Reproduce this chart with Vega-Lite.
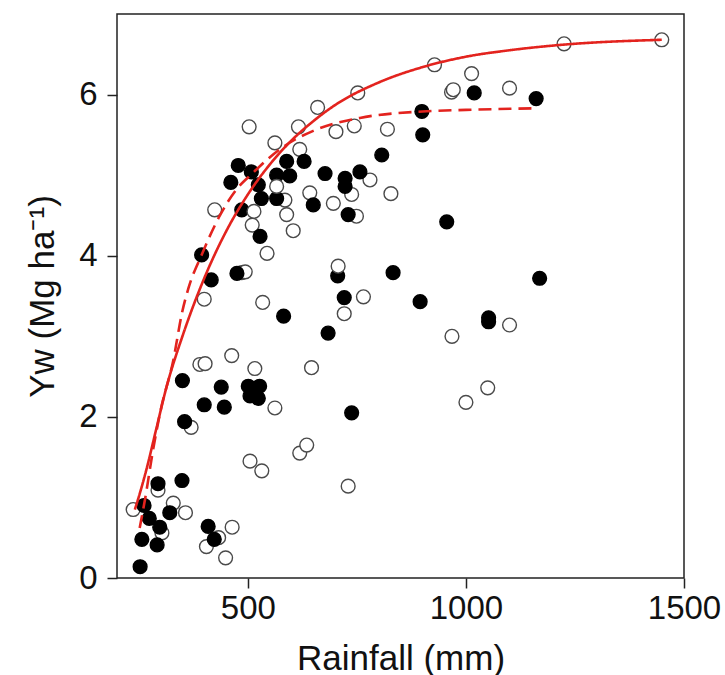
{
  "$schema": "https://vega.github.io/schema/vega-lite/v6.json",
  "width": 567,
  "height": 564,
  "autosize": "none",
  "padding": {"left": 117, "top": 14, "right": 41, "bottom": 97},
  "background": "white",
  "config": {
    "view": {"stroke": "#222222", "strokeWidth": 1.5},
    "axis": {
      "domain": false, "grid": false, "labelFlush": false,
      "tickColor": "#222222", "tickWidth": 1.5, "tickSize": 10,
      "labelFont": "Liberation Sans", "labelFontSize": 33, "labelColor": "#111111",
      "titleFont": "Liberation Sans", "titleFontSize": 35, "titleFontWeight": "normal", "titleColor": "#111111"
    }
  },
  "layer": [
    {
      "data": {"values": [
        {"rainfall": 237, "yw": 0.85, "type": "open"},
        {"rainfall": 294, "yw": 1.09, "type": "open"},
        {"rainfall": 329, "yw": 0.93, "type": "open"},
        {"rainfall": 357, "yw": 0.81, "type": "open"},
        {"rainfall": 303, "yw": 0.56, "type": "open"},
        {"rainfall": 433, "yw": 0.50, "type": "open"},
        {"rainfall": 405, "yw": 0.39, "type": "open"},
        {"rainfall": 449, "yw": 0.25, "type": "open"},
        {"rainfall": 464, "yw": 0.63, "type": "open"},
        {"rainfall": 370, "yw": 1.87, "type": "open"},
        {"rainfall": 390, "yw": 2.65, "type": "open"},
        {"rainfall": 402, "yw": 2.66, "type": "open"},
        {"rainfall": 463, "yw": 2.76, "type": "open"},
        {"rainfall": 516, "yw": 2.60, "type": "open"},
        {"rainfall": 562, "yw": 2.11, "type": "open"},
        {"rainfall": 505, "yw": 1.45, "type": "open"},
        {"rainfall": 532, "yw": 1.33, "type": "open"},
        {"rainfall": 619, "yw": 1.55, "type": "open"},
        {"rainfall": 635, "yw": 1.65, "type": "open"},
        {"rainfall": 730, "yw": 1.14, "type": "open"},
        {"rainfall": 646, "yw": 2.61, "type": "open"},
        {"rainfall": 400, "yw": 3.46, "type": "open"},
        {"rainfall": 486, "yw": 3.79, "type": "open"},
        {"rainfall": 494, "yw": 3.80, "type": "open"},
        {"rainfall": 534, "yw": 3.42, "type": "open"},
        {"rainfall": 544, "yw": 4.03, "type": "open"},
        {"rainfall": 424, "yw": 4.57, "type": "open"},
        {"rainfall": 510, "yw": 4.38, "type": "open"},
        {"rainfall": 585, "yw": 4.69, "type": "open"},
        {"rainfall": 589, "yw": 4.51, "type": "open"},
        {"rainfall": 604, "yw": 4.31, "type": "open"},
        {"rainfall": 503, "yw": 5.60, "type": "open"},
        {"rainfall": 562, "yw": 5.40, "type": "open"},
        {"rainfall": 619, "yw": 5.32, "type": "open"},
        {"rainfall": 616, "yw": 5.60, "type": "open"},
        {"rainfall": 660, "yw": 5.84, "type": "open"},
        {"rainfall": 702, "yw": 5.54, "type": "open"},
        {"rainfall": 744, "yw": 5.61, "type": "open"},
        {"rainfall": 752, "yw": 6.02, "type": "open"},
        {"rainfall": 820, "yw": 5.57, "type": "open"},
        {"rainfall": 642, "yw": 4.78, "type": "open"},
        {"rainfall": 696, "yw": 4.65, "type": "open"},
        {"rainfall": 738, "yw": 4.76, "type": "open"},
        {"rainfall": 749, "yw": 4.49, "type": "open"},
        {"rainfall": 780, "yw": 4.94, "type": "open"},
        {"rainfall": 828, "yw": 4.77, "type": "open"},
        {"rainfall": 765, "yw": 3.49, "type": "open"},
        {"rainfall": 721, "yw": 3.28, "type": "open"},
        {"rainfall": 928, "yw": 6.37, "type": "open"},
        {"rainfall": 1013, "yw": 6.26, "type": "open"},
        {"rainfall": 967, "yw": 6.03, "type": "open"},
        {"rainfall": 971, "yw": 6.06, "type": "open"},
        {"rainfall": 1100, "yw": 6.08, "type": "open"},
        {"rainfall": 1225, "yw": 6.63, "type": "open"},
        {"rainfall": 1449, "yw": 6.68, "type": "open"},
        {"rainfall": 968, "yw": 3.00, "type": "open"},
        {"rainfall": 1100, "yw": 3.14, "type": "open"},
        {"rainfall": 1000, "yw": 2.18, "type": "open"},
        {"rainfall": 1050, "yw": 2.36, "type": "open"},
        {"rainfall": 253, "yw": 0.14, "type": "filled"},
        {"rainfall": 257, "yw": 0.48, "type": "filled"},
        {"rainfall": 262, "yw": 0.90, "type": "filled"},
        {"rainfall": 274, "yw": 0.74, "type": "filled"},
        {"rainfall": 292, "yw": 0.41, "type": "filled"},
        {"rainfall": 298, "yw": 0.63, "type": "filled"},
        {"rainfall": 294, "yw": 1.17, "type": "filled"},
        {"rainfall": 321, "yw": 0.81, "type": "filled"},
        {"rainfall": 349, "yw": 1.21, "type": "filled"},
        {"rainfall": 350, "yw": 2.45, "type": "filled"},
        {"rainfall": 355, "yw": 1.94, "type": "filled"},
        {"rainfall": 400, "yw": 2.15, "type": "filled"},
        {"rainfall": 439, "yw": 2.37, "type": "filled"},
        {"rainfall": 446, "yw": 2.12, "type": "filled"},
        {"rainfall": 409, "yw": 0.64, "type": "filled"},
        {"rainfall": 423, "yw": 0.48, "type": "filled"},
        {"rainfall": 501, "yw": 2.38, "type": "filled"},
        {"rainfall": 527, "yw": 2.38, "type": "filled"},
        {"rainfall": 505, "yw": 2.26, "type": "filled"},
        {"rainfall": 524, "yw": 2.23, "type": "filled"},
        {"rainfall": 394, "yw": 4.01, "type": "filled"},
        {"rainfall": 416, "yw": 3.70, "type": "filled"},
        {"rainfall": 475, "yw": 3.78, "type": "filled"},
        {"rainfall": 478, "yw": 5.12, "type": "filled"},
        {"rainfall": 508, "yw": 5.04, "type": "filled"},
        {"rainfall": 461, "yw": 4.91, "type": "filled"},
        {"rainfall": 524, "yw": 4.88, "type": "filled"},
        {"rainfall": 486, "yw": 4.57, "type": "filled"},
        {"rainfall": 528, "yw": 4.24, "type": "filled"},
        {"rainfall": 531, "yw": 4.71, "type": "filled"},
        {"rainfall": 566, "yw": 4.71, "type": "filled"},
        {"rainfall": 566, "yw": 5.00, "type": "filled"},
        {"rainfall": 589, "yw": 5.17, "type": "filled"},
        {"rainfall": 596, "yw": 4.99, "type": "filled"},
        {"rainfall": 629, "yw": 5.17, "type": "filled"},
        {"rainfall": 582, "yw": 3.25, "type": "filled"},
        {"rainfall": 650, "yw": 4.63, "type": "filled"},
        {"rainfall": 677, "yw": 5.02, "type": "filled"},
        {"rainfall": 723, "yw": 4.96, "type": "filled"},
        {"rainfall": 723, "yw": 4.86, "type": "filled"},
        {"rainfall": 757, "yw": 5.04, "type": "filled"},
        {"rainfall": 730, "yw": 4.51, "type": "filled"},
        {"rainfall": 807, "yw": 5.25, "type": "filled"},
        {"rainfall": 899, "yw": 5.79, "type": "filled"},
        {"rainfall": 901, "yw": 5.50, "type": "filled"},
        {"rainfall": 1019, "yw": 6.02, "type": "filled"},
        {"rainfall": 1161, "yw": 5.95, "type": "filled"},
        {"rainfall": 956, "yw": 4.42, "type": "filled"},
        {"rainfall": 706, "yw": 3.75, "type": "filled"},
        {"rainfall": 721, "yw": 3.48, "type": "filled"},
        {"rainfall": 684, "yw": 3.04, "type": "filled"},
        {"rainfall": 833, "yw": 3.79, "type": "filled"},
        {"rainfall": 895, "yw": 3.43, "type": "filled"},
        {"rainfall": 738, "yw": 2.05, "type": "filled"},
        {"rainfall": 1052, "yw": 3.23, "type": "filled"},
        {"rainfall": 1052, "yw": 3.18, "type": "filled"},
        {"rainfall": 1169, "yw": 3.72, "type": "filled"},
        {"rainfall": 566, "yw": 4.86, "type": "open"},
        {"rainfall": 514, "yw": 4.55, "type": "open"},
        {"rainfall": 707, "yw": 3.87, "type": "open"}
      ]},
      "mark": {"type": "circle", "size": 190, "strokeWidth": 1.4, "opacity": 1},
      "encoding": {
        "x": {"field": "rainfall", "type": "quantitative", "title": "Rainfall (mm)",
              "scale": {"domain": [200, 1500], "nice": false, "zero": false},
              "axis": {"values": [500, 1000, 1500], "format": "d", "labelPadding": 4, "titlePadding": 16}},
        "y": {"field": "yw", "type": "quantitative", "title": "Yw (Mg ha\u207B\u00B9)",
              "scale": {"domain": [0, 7], "nice": false, "zero": false},
              "axis": {"values": [0, 2, 4, 6], "format": "d", "labelPadding": 10, "titlePadding": 18}},
        "fill": {"field": "type", "type": "nominal", "legend": null,
                 "scale": {"domain": ["filled", "open"], "range": ["#000000", "#ffffff"]}},
        "stroke": {"field": "type", "type": "nominal", "legend": null,
                   "scale": {"domain": ["filled", "open"], "range": ["#000000", "#4a4a4a"]}}
      }
    },
    {
      "data": {"values": [
        {"rainfall": 241, "yw": 0.85, "curve": "solid"},
        {"rainfall": 255, "yw": 1.10, "curve": "solid"},
        {"rainfall": 270, "yw": 1.40, "curve": "solid"},
        {"rainfall": 290, "yw": 1.85, "curve": "solid"},
        {"rainfall": 314, "yw": 2.38, "curve": "solid"},
        {"rainfall": 350, "yw": 3.00, "curve": "solid"},
        {"rainfall": 400, "yw": 3.72, "curve": "solid"},
        {"rainfall": 450, "yw": 4.30, "curve": "solid"},
        {"rainfall": 500, "yw": 4.76, "curve": "solid"},
        {"rainfall": 550, "yw": 5.13, "curve": "solid"},
        {"rainfall": 600, "yw": 5.43, "curve": "solid"},
        {"rainfall": 650, "yw": 5.67, "curve": "solid"},
        {"rainfall": 700, "yw": 5.87, "curve": "solid"},
        {"rainfall": 800, "yw": 6.15, "curve": "solid"},
        {"rainfall": 900, "yw": 6.34, "curve": "solid"},
        {"rainfall": 1000, "yw": 6.47, "curve": "solid"},
        {"rainfall": 1100, "yw": 6.55, "curve": "solid"},
        {"rainfall": 1225, "yw": 6.62, "curve": "solid"},
        {"rainfall": 1449, "yw": 6.68, "curve": "solid"},
        {"rainfall": 252, "yw": 0.62, "curve": "dashed"},
        {"rainfall": 265, "yw": 1.00, "curve": "dashed"},
        {"rainfall": 283, "yw": 1.60, "curve": "dashed"},
        {"rainfall": 300, "yw": 2.08, "curve": "dashed"},
        {"rainfall": 329, "yw": 2.70, "curve": "dashed"},
        {"rainfall": 349, "yw": 3.29, "curve": "dashed"},
        {"rainfall": 364, "yw": 3.60, "curve": "dashed"},
        {"rainfall": 394, "yw": 4.01, "curve": "dashed"},
        {"rainfall": 436, "yw": 4.50, "curve": "dashed"},
        {"rainfall": 475, "yw": 4.83, "curve": "dashed"},
        {"rainfall": 512, "yw": 5.03, "curve": "dashed"},
        {"rainfall": 550, "yw": 5.22, "curve": "dashed"},
        {"rainfall": 581, "yw": 5.35, "curve": "dashed"},
        {"rainfall": 650, "yw": 5.55, "curve": "dashed"},
        {"rainfall": 757, "yw": 5.71, "curve": "dashed"},
        {"rainfall": 900, "yw": 5.79, "curve": "dashed"},
        {"rainfall": 1000, "yw": 5.81, "curve": "dashed"},
        {"rainfall": 1161, "yw": 5.83, "curve": "dashed"}
      ]},
      "mark": {"type": "line", "color": "#e3231e", "strokeWidth": 2.6, "interpolate": "monotone"},
      "encoding": {
        "x": {"field": "rainfall", "type": "quantitative", "title": "Rainfall (mm)"},
        "y": {"field": "yw", "type": "quantitative", "title": "Yw (Mg ha\u207B\u00B9)"},
        "detail": {"field": "curve", "type": "nominal"},
        "strokeDash": {"field": "curve", "type": "nominal", "legend": null,
                       "scale": {"domain": ["solid", "dashed"], "range": [[1, 0], [13, 7]]}}
      }
    }
  ]
}
